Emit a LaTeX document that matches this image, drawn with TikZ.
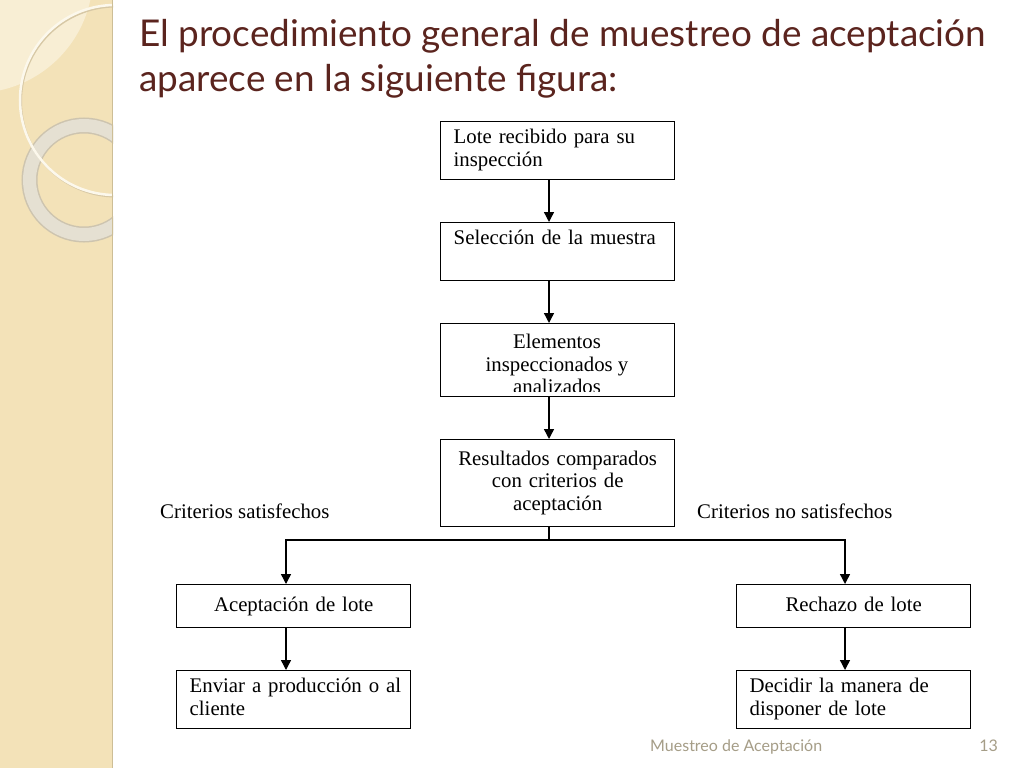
\documentclass[tikz,border=0pt]{standalone}
\usepackage{fontspec}
\setmainfont{Liberation Serif}
\newfontfamily\titlefont{Lato}
\usetikzlibrary{arrows.meta,calc}
\definecolor{titlecol}{RGB}{91,36,30}
\definecolor{stripcol}{RGB}{243,226,184}
\definecolor{stripedge}{RGB}{205,190,150}
\definecolor{lightzone}{RGB}{248,238,212}
\definecolor{ringcol}{RGB}{229,224,210}
\definecolor{ringedge}{RGB}{205,196,175}
\definecolor{circcol}{RGB}{252,248,236}
\definecolor{circshadow}{RGB}{215,200,165}
\definecolor{footcol}{RGB}{165,157,135}
\begin{document}
\begin{tikzpicture}[x=1pt,y=-1pt,
  boxfont/.style={font=\fontsize{20.8}{22.5}\selectfont},
  box/.style={boxfont, draw=black, line width=1.4pt, minimum width=234pt, inner sep=0pt, text width=208pt, anchor=north west},
  onel/.style={text height=14pt, text depth=4pt},
  arr/.style={line width=1.4pt, -{Triangle[length=10pt,width=10pt]}},
  conn/.style={line width=1.4pt},
  lab/.style={boxfont, inner sep=0pt, anchor=base west},
  ttl/.style={font=\titlefont\fontsize{36.9}{45}\selectfont, text=titlecol, inner sep=0pt, anchor=base west},
  foot/.style={font=\titlefont\fontsize{16}{16}\selectfont, text=footcol, inner sep=0pt}
]
\useasboundingbox (0,0) rectangle (1024,768);
\fill[white] (0,0) rectangle (1024,768);
% left decorative strip
\begin{scope}
  \clip (0,0) rectangle (113,768);
  \fill[stripcol] (0,0) rectangle (113,768);
  \fill[lightzone] (-25,-25) circle (118);
  \draw[ringedge, line width=16pt] (84,180) circle (54.5);
  \draw[ringcol, line width=13pt] (84,180) circle (54.5);
  \draw[circshadow, line width=2pt] (116,101.5) circle (95);
  \draw[circcol, line width=2.5pt] (115,100) circle (95);
\end{scope}
\draw[stripedge, line width=1.5pt] (112.5,0) -- (112.5,768);
% title
\node[ttl] (t1) at (139,46.7) {El procedimiento general de muestreo de aceptación};
\node[ttl] (t2) at (139,91.7) {aparece en la siguiente figura:};
% column coordinates
\coordinate (ax) at (549,0);
\coordinate (al) at (286,0);
\coordinate (ar) at (845,0);
\coordinate (sp) at (549,540);
% boxes
\node[box, minimum height=58pt, align=left] (b1) at (440,121) {\mbox{\strut Lote recibido para su}\\\mbox{\strut inspección}};
\node[box, minimum height=58pt, align=left] (b2) at (440,222) {\mbox{\strut Selección de la muestra}\\\strut};
\node[box, minimum height=73pt] (b3) at (440,323) {};
\begin{scope}
  \clip ($(b3.north west)+(1,1)$) rectangle ($(b3.south east)+(-1,-6)$);
  \node[boxfont, align=center, inner sep=0pt] (b3t) at (557,364) {Elementos\\inspeccionados y\\analizados};
\end{scope}
\node[box, minimum height=87pt, align=center] (b4) at (440,439) {\strut Resultados comparados\\con criterios de\\aceptación\strut};
\node[box, onel, minimum height=43pt, align=center] (b5) at (176,584) {Aceptación de lote};
\node[box, onel, minimum height=43pt, align=center] (b6) at (736,584) {Rechazo de lote};
\node[box, minimum height=58pt, align=left] (b7) at (176,670) {\mbox{\strut Enviar a producción o al}\\\mbox{\strut cliente}};
\node[box, minimum height=58pt, align=left] (b8) at (736,670) {\mbox{\strut Decidir la manera de}\\\mbox{\strut disponer de lote}};
% labels
\node[lab] (l1) at (160,518) {Criterios satisfechos};
\node[lab] (l2) at (697,518) {Criterios no satisfechos};
% connectors
\draw[arr] (b1.south -| ax) -- (b2.north -| ax);
\draw[arr] (b2.south -| ax) -- (b3.north -| ax);
\draw[arr] (b3.south -| ax) -- (b4.north -| ax);
\draw[conn] (b4.south -| ax) -- (sp);
\draw[arr] (sp) -| (b5.north -| al);
\draw[arr] (sp) -| (b6.north -| ar);
\draw[arr] (b5.south -| al) -- (b7.north -| al);
\draw[arr] (b6.south -| ar) -- (b8.north -| ar);
% footer
\node[foot, anchor=base west] (ft) at (650,751) {Muestreo de Aceptación};
\node[foot, anchor=base east] (pg) at (998,751) {13};
\end{tikzpicture}
\end{document}
